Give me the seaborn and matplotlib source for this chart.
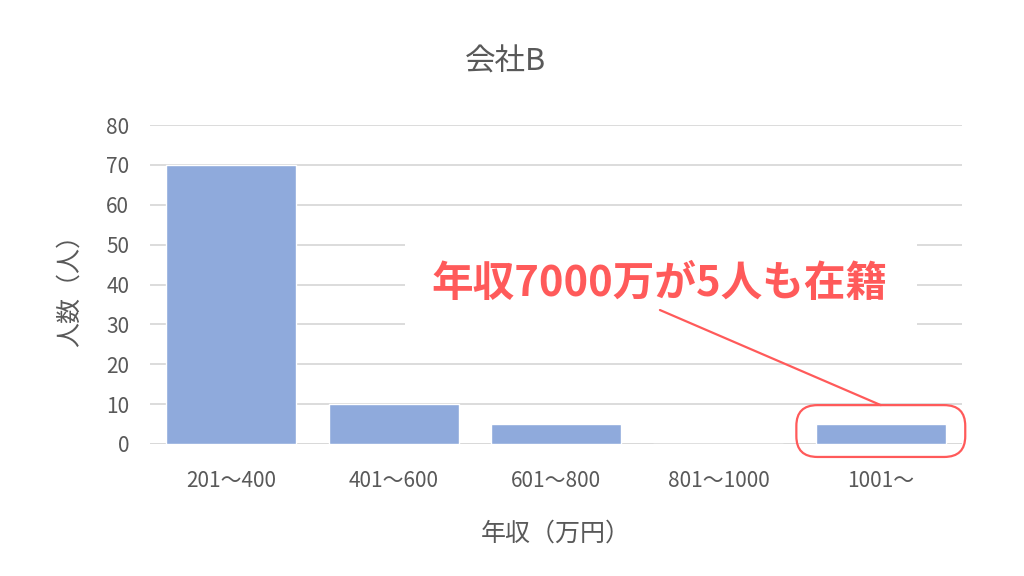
import matplotlib
matplotlib.use("Agg")
import matplotlib.pyplot as plt
import seaborn as sns
import pandas as pd
from matplotlib.patches import FancyBboxPatch, Rectangle

categories = ["201～400", "401～600", "601～800", "801～1000", "1001～"]
values = [70, 10, 5, 0, 5]
yticks = [0, 10, 20, 30, 40, 50, 60, 70, 80]
title = "会社B"
xlabel = "年収（万円）"
ylabel = "人数（人）"
note = "年収7000万が5人も在籍"
highlight_idx = 4

sns.set_theme(style="white")
plt.rcParams['font.family'] = ['Noto Sans CJK JP', 'DejaVu Sans']

df = pd.DataFrame({"cat": categories, "val": values})

fig = plt.figure(figsize=(10.24, 5.76), dpi=100)
ax = fig.add_axes([150/1024, 1-444/576, 812/1024, 319/576])
sns.barplot(data=df, x="cat", y="val", color="#8FAADC", width=0.8,
            saturation=1, ax=ax, zorder=3)

grey = "#595959"
ax.set_ylim(0, 80)
ax.set_yticks(yticks)
ax.set_xlim(-0.5, len(categories) - 0.5)
ax.grid(axis="y", color="#D9D9D9", linewidth=1.3, zorder=0)
ax.set_axisbelow(True)
for s in ax.spines.values():
    s.set_visible(False)
ax.axhline(0, color="#D9D9D9", linewidth=1.3, zorder=1)
ax.tick_params(axis="both", length=0, labelsize=15, colors=grey)
ax.tick_params(axis="x", pad=19)
ax.tick_params(axis="y", pad=15)
ax.set_xlabel(xlabel, fontsize=18, color=grey, labelpad=20)
ax.set_ylabel(ylabel, fontsize=18, color=grey, labelpad=17)
fig.text(505/1024, 1-62/576, title, fontsize=22, color=grey,
         ha="center", va="center")

# white box behind note
ax.add_patch(Rectangle((0.314, 0.31), 0.63, 0.35, transform=ax.transAxes,
                       facecolor="white", edgecolor="none", zorder=2))

red = "#FF5A5A"
hv = values[highlight_idx]
# rounded outline around highlighted bar
box = FancyBboxPatch((highlight_idx - 0.52, hv - 8.25), 1.04, 13.0,
                     boxstyle="round,pad=0,rounding_size=0.13",
                     mutation_aspect=40, facecolor="none", edgecolor=red,
                     linewidth=1.6, zorder=5, clip_on=False)
ax.add_patch(box)

ax.text(0.628, 0.50, note, transform=ax.transAxes, ha="center", va="center",
        fontsize=30, fontweight="bold", color=red, zorder=6)
ax.annotate("", xy=(highlight_idx, hv + 4.75), xytext=(0.628, 0.42),
            textcoords="axes fraction", zorder=6,
            arrowprops=dict(arrowstyle="-", color=red, lw=1.6,
                            shrinkA=0, shrinkB=0))

fig.savefig("out.png", dpi=100, facecolor="white")
